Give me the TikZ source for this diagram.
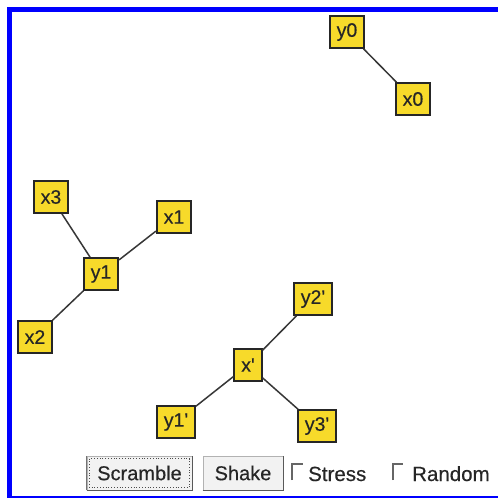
\documentclass[tikz,border=0pt]{standalone}
\usepackage{fontspec}
\setmainfont{Liberation Sans}
\newfontfamily\labelfont{Liberation Sans}[FakeBold=0.35]
\definecolor{nodeyellow}{RGB}{247,218,42}
\definecolor{frameblue}{RGB}{0,0,255}
\definecolor{edgegray}{RGB}{55,55,55}
\definecolor{btnface}{RGB}{242,242,242}
\tikzset{
  vertex/.style={draw=black!85, line width=1.6pt, fill=nodeyellow,
    text=black!85, inner xsep=7pt, inner ysep=0pt, minimum height=32pt,
    font=\labelfont\fontsize{19.5}{21}\selectfont},
  link/.style={draw=edgegray, line width=1.5pt},
  button/.style={fill=btnface, draw=black!30, line width=0.8pt,
    inner sep=0pt, text=black!85, font=\labelfont\fontsize{20}{22}\selectfont},
  btnshadow/.style={draw=black!65, line width=1.8pt},
  checkbox/.style={minimum width=10pt, minimum height=16pt, inner sep=0pt},
  boxedge/.style={draw=black!60, line width=1.8pt},
  caption/.style={anchor=base west, inner sep=0pt, text=black!85,
    font=\labelfont\fontsize{20.5}{22}\selectfont}
}
\begin{document}
\begin{tikzpicture}[x=1pt,y=-1pt]
\useasboundingbox (0,0) rectangle (498,499);
\fill[white] (0,0) rectangle (498,499);
% window frame
\fill[frameblue] (7,7) rectangle (498,12);
\fill[frameblue] (7,7) rectangle (12,498);
\fill[frameblue] (7,496) rectangle (498,498);

% vertices
\node[vertex] (y0) at (347,32) {y0};
\node[vertex] (x0) at (413,99) {x0};
\node[vertex] (x3) at (51,197) {x3};
\node[vertex] (x1) at (174,217) {x1};
\node[vertex] (y1) at (101,274) {y1};
\node[vertex] (x2) at (35,337) {x2};
\node[vertex] (y2p) at (313,299) {y2'};
\node[vertex] (xp) at (248,365) {x'};
\node[vertex] (y1p) at (176,422) {y1'};
\node[vertex] (y3p) at (317,426) {y3'};

% edges
\draw[link] (y0) -- (x0);
\draw[link] (x3) -- (y1);
\draw[link] (x1) -- (y1);
\draw[link] (x2) -- (y1);
\draw[link] (xp) -- (y2p);
\draw[link] (xp) -- (y1p);
\draw[link] (xp) -- (y3p);

% control bar
\node[button, minimum width=105pt, minimum height=34pt] (scramble) at (139.5,473) {Scramble};
\draw[btnshadow] (scramble.south west) -- (scramble.south east) -- (scramble.north east);
\draw[black!55, line width=1pt] (scramble.south west) -- (scramble.north west);
\draw[black!70, line width=0.8pt, dotted]
  ([xshift=3pt,yshift=-3pt]scramble.north west) rectangle ([xshift=-3pt,yshift=3pt]scramble.south east);

\node[button, minimum width=80pt, minimum height=34pt] (shake) at (243,473) {Shake};
\draw[btnshadow] (shake.south west) -- (shake.south east) -- (shake.north east);

\node[checkbox] (cbstress) at (297.5,472) {};
\draw[boxedge] (cbstress.south west) -- (cbstress.north west) -- (cbstress.north east);
\node[caption] (stress) at (308,481) {Stress};

\node[checkbox] (cbrandom) at (398,472) {};
\draw[boxedge] (cbrandom.south west) -- (cbrandom.north west) -- (cbrandom.north east);
\node[caption] (random) at (412,481) {Random};
\end{tikzpicture}
\end{document}
